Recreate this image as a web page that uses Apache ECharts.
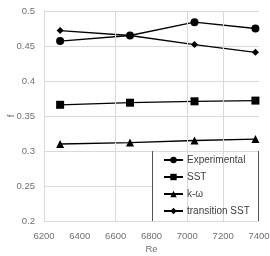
<!DOCTYPE html>
<html>
<head>
<meta charset="utf-8">
<script src="https://cdn.jsdelivr.net/npm/echarts@6/dist/echarts.min.js"></script>
<style>
  html, body { margin: 0; padding: 0; background: #fff; }
  #chart { width: 270px; height: 256px; }
</style>
</head>
<body>
<div id="chart"></div>
<script>
  // Re values for each run
  var reValues = [6290, 6680, 7040, 7380];
  // friction factor f
  var experimental = [0.457, 0.465, 0.484, 0.475];
  var sst = [0.366, 0.369, 0.371, 0.372];
  var kOmega = [0.310, 0.312, 0.315, 0.317];
  var transitionSst = [0.472, 0.465, 0.452, 0.441];
  // vertical gridlines that are visible in the picture
  var xGridLines = [6600, 7000, 7200];

  function pairs(ys) {
    return reValues.map(function (x, i) { return [x, ys[i]]; });
  }

  var chart = echarts.init(document.getElementById('chart'));
  var lineStyle = { color: '#000', width: 1.3 };
  chart.setOption({
    animation: false,
    textStyle: { fontFamily: 'Liberation Sans' },
    grid: { left: 44, right: 11, top: 11, bottom: 35, outerBoundsMode: 'none', containLabel: false },
    xAxis: {
      type: 'value', min: 6200, max: 7400, interval: 200,
      name: 'Re', nameLocation: 'middle', nameGap: 23, nameMoveOverlap: false,
      nameTextStyle: { color: '#6f6f6f', fontSize: 9.5 },
      axisLine: { show: false }, axisTick: { show: false },
      splitLine: { show: false },
      axisLabel: { color: '#6f6f6f', fontSize: 9.5, margin: 10, formatter: function (v) { return String(v); } }
    },
    yAxis: {
      type: 'value', min: 0.2, max: 0.5, interval: 0.05,
      name: 'f', nameLocation: 'middle', nameGap: 28, nameRotate: 90, nameMoveOverlap: false,
      nameTextStyle: { color: '#6f6f6f', fontSize: 9.5 },
      axisLine: { show: true, lineStyle: { color: '#d9d9d9' } },
      axisTick: { show: false },
      splitLine: { lineStyle: { color: '#d9d9d9' } },
      axisLabel: { color: '#6f6f6f', fontSize: 9.5, margin: 9 }
    },
    legend: {
      orient: 'vertical', left: 163, top: 155, z: 6,
      itemWidth: 19, itemHeight: 8, itemGap: 7, padding: 0,
      textStyle: { color: '#404040', fontSize: 10, padding: [0, 0, 0, -1] },
      data: ['Experimental', 'SST', 'k-ω', 'transition SST']
    },
    graphic: [
      { type: 'rect', shape: { x: 153, y: 152, width: 105, height: 69 }, style: { fill: '#fff' }, z: 3 },
      { type: 'line', shape: { x1: 152.5, y1: 151, x2: 152.5, y2: 221 }, style: { stroke: '#555', lineWidth: 1 }, z: 10 },
      { type: 'line', shape: { x1: 258.5, y1: 151, x2: 258.5, y2: 221 }, style: { stroke: '#555', lineWidth: 1 }, z: 10 }
    ],
    series: [
      {
        name: 'Experimental', type: 'line', data: pairs(experimental),
        symbol: 'circle', symbolSize: 8, lineStyle: lineStyle, itemStyle: { color: '#000' },
        markLine: {
          silent: true, symbol: 'none', label: { show: false },
          lineStyle: { color: '#d9d9d9', type: 'solid', width: 1 },
          data: xGridLines.map(function (v) { return { xAxis: v }; })
        }
      },
      {
        name: 'SST', type: 'line', data: pairs(sst),
        symbol: 'rect', symbolSize: 8, lineStyle: lineStyle, itemStyle: { color: '#000' }
      },
      {
        name: 'k-ω', type: 'line', data: pairs(kOmega),
        symbol: 'triangle', symbolSize: 8, lineStyle: lineStyle, itemStyle: { color: '#000' }
      },
      {
        name: 'transition SST', type: 'line', data: pairs(transitionSst),
        symbol: 'diamond', symbolSize: 7, lineStyle: lineStyle, itemStyle: { color: '#000' }
      }
    ]
  });
</script>
</body>
</html>
